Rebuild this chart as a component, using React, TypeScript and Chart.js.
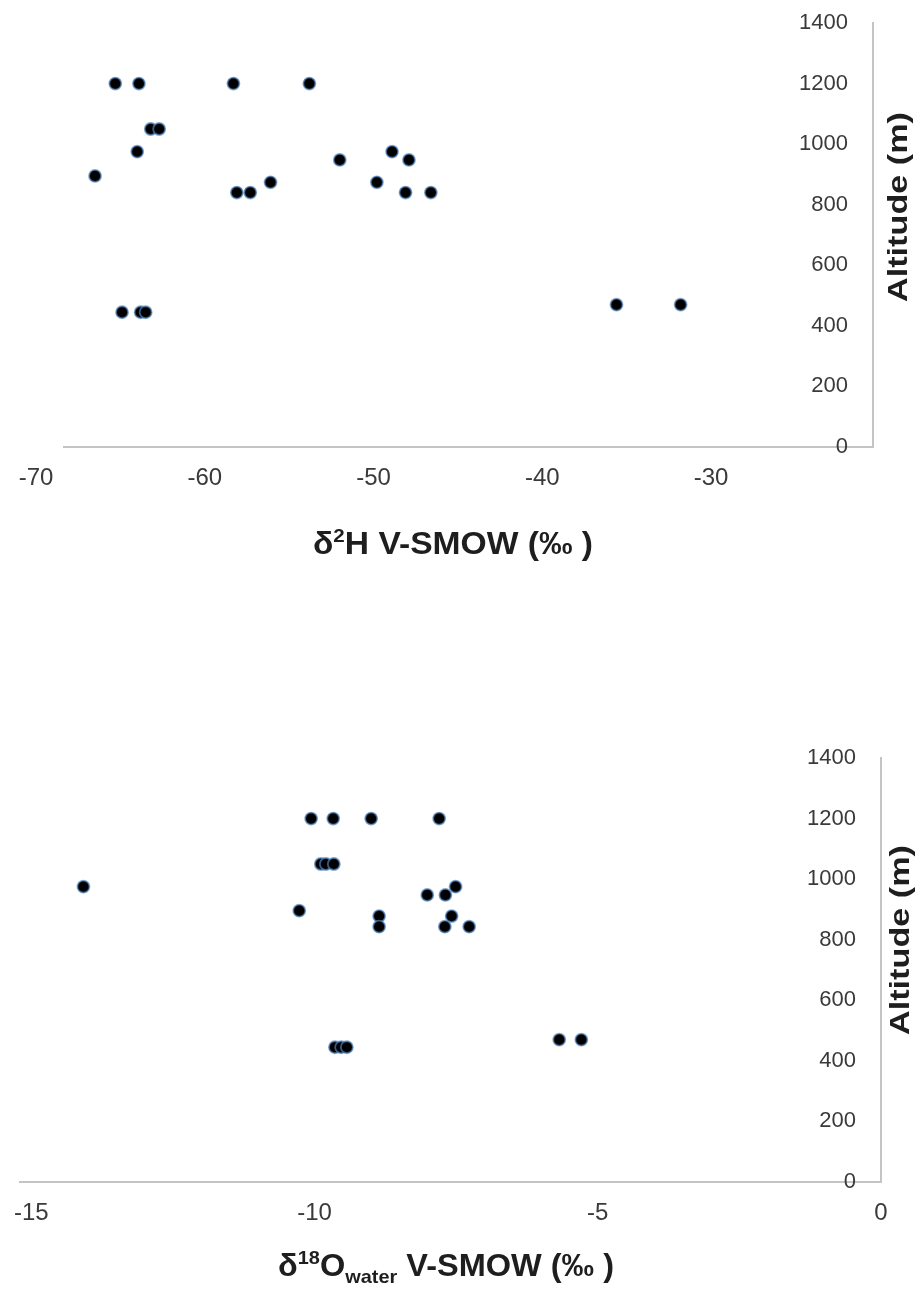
import React, { useEffect, useRef } from "react";
import { Chart, registerables } from "chart.js";

Chart.register(...registerables);

// ---- Data: δ2H (top chart) ----
const deltaH = [
  -65.3, -63.9, -58.3, -53.8,
  -63.2, -62.7,
  -64.0, -66.5,
  -52.0, -47.9, -48.9,
  -56.1, -49.8,
  -58.1, -57.3, -48.1, -46.6,
  -64.9, -63.8, -63.5,
  -35.6, -31.8,
];
const altitudeH = [
  1200, 1200, 1200, 1200,
  1050, 1050,
  975, 895,
  948, 948, 975,
  874, 874,
  840, 840, 840, 840,
  445, 445, 445,
  470, 470,
];

// ---- Data: δ18O water (bottom chart) ----
const deltaO = [
  -10.06, -9.67, -9.0, -7.8,
  -9.89, -9.8, -9.66,
  -14.08, -7.51,
  -8.01, -7.69,
  -10.27,
  -8.86, -7.58,
  -8.86, -7.7, -7.27,
  -9.64, -9.53, -9.43,
  -5.68, -5.29,
];
const altitudeO = [
  1200, 1200, 1200, 1200,
  1050, 1050, 1050,
  975, 975,
  948, 948,
  896,
  878, 878,
  843, 843, 843,
  445, 445, 445,
  470, 470,
];

// ---- Tick labels ----
const hTicks = [-70, -60, -50, -40, -30];
const oTicks = [-15, -10, -5, 0];
const altitudeTicks = [0, 200, 400, 600, 800, 1000, 1200, 1400];

type Seg = { text: string; size: number; dy: number };

const TITLE_FAMILY = '"Liberation Sans", Arial, sans-serif';

function drawRich(
  ctx: CanvasRenderingContext2D,
  segs: Seg[],
  cx: number,
  baseline: number,
  width: number
) {
  const ws: number[] = [];
  let total = 0;
  for (const s of segs) {
    ctx.font = `bold ${s.size}px ${TITLE_FAMILY}`;
    const w = ctx.measureText(s.text).width;
    ws.push(w);
    total += w;
  }
  const sx = width / total;
  ctx.save();
  ctx.translate(cx - width / 2, baseline);
  ctx.scale(sx, 1);
  ctx.fillStyle = "#1e1e1e";
  ctx.textAlign = "left";
  ctx.textBaseline = "alphabetic";
  let x = 0;
  segs.forEach((s, i) => {
    ctx.font = `bold ${s.size}px ${TITLE_FAMILY}`;
    ctx.fillText(s.text, x, s.dy);
    x += ws[i];
  });
  ctx.restore();
}

function drawVertical(
  ctx: CanvasRenderingContext2D,
  text: string,
  cx: number,
  cy: number,
  length: number,
  size: number
) {
  ctx.save();
  ctx.translate(cx, cy);
  ctx.rotate(-Math.PI / 2);
  ctx.font = `bold ${size}px ${TITLE_FAMILY}`;
  const w = ctx.measureText(text).width;
  ctx.scale(length / w, 1);
  ctx.fillStyle = "#1e1e1e";
  ctx.textAlign = "center";
  ctx.textBaseline = "middle";
  ctx.fillText(text, 0, 0);
  ctx.restore();
}

type Cfg = {
  xs: number[];
  ys: number[];
  xMin: number;
  xMax: number;
  xTicks: number[];
  padLeft: number;
  padTop: number;
  xAxisHeight: number;
  yAxisWidth: number;
  xTickPadding: number;
  xTitle: Seg[];
  xTitleX: number;
  xTitleBaseline: number;
  xTitleWidth: number;
  yTitleX: number;
  yTitleY: number;
};

function buildChart(canvas: HTMLCanvasElement, cfg: Cfg) {
  const titlePlugin = {
    id: "richTitles",
    afterDraw(chart: Chart) {
      const ctx = chart.ctx;
      drawRich(ctx, cfg.xTitle, cfg.xTitleX, cfg.xTitleBaseline, cfg.xTitleWidth);
      drawVertical(ctx, "Altitude (m)", cfg.yTitleX, cfg.yTitleY, 190, 27);
    },
  };
  return new Chart(canvas, {
    type: "scatter",
    data: {
      datasets: [
        {
          data: cfg.xs.map((x, i) => ({ x, y: cfg.ys[i] })),
          pointRadius: 6,
          pointHoverRadius: 6,
          backgroundColor: "#000000",
          borderColor: "rgba(79,129,189,0.7)",
          borderWidth: 1.8,
        },
      ],
    },
    options: {
      animation: false,
      responsive: false,
      maintainAspectRatio: false,
      events: [],
      layout: {
        padding: { left: cfg.padLeft, top: cfg.padTop, right: 0, bottom: 0 },
      },
      plugins: {
        legend: { display: false },
        tooltip: { enabled: false },
      },
      scales: {
        x: {
          type: "linear",
          position: "bottom",
          min: cfg.xMin,
          max: cfg.xMax,
          grid: { display: false, drawTicks: false },
          border: { display: true, color: "#c4c4c4", width: 2 },
          ticks: {
            autoSkip: false,
            maxRotation: 0,
            padding: cfg.xTickPadding,
            color: "#3a3a3a",
            font: { family: '"Liberation Sans Narrow", "Liberation Sans", Arial', size: 24 },
            callback: (v: any) => String(v),
          },
          afterBuildTicks: (s: any) => {
            s.ticks = cfg.xTicks.map((v) => ({ value: v }));
          },
          afterFit: (s: any) => {
            s.height = cfg.xAxisHeight;
            s.paddingLeft = 0;
            s.paddingRight = 0;
          },
        },
        y: {
          type: "linear",
          position: "right",
          min: 0,
          max: 1400,
          grid: { display: false, drawTicks: false },
          border: { display: true, color: "#c4c4c4", width: 2 },
          ticks: {
            mirror: true,
            padding: -25,
            color: "#3a3a3a",
            font: { family: '"Liberation Sans", Arial', size: 22 },
            callback: (v: any) => String(v),
          },
          afterBuildTicks: (s: any) => {
            s.ticks = altitudeTicks.map((v) => ({ value: v }));
          },
          afterFit: (s: any) => {
            s.width = cfg.yAxisWidth;
            s.paddingTop = 0;
            s.paddingBottom = 0;
          },
        },
      },
    },
    plugins: [titlePlugin],
  } as any);
}

export default function App() {
  const topRef = useRef<HTMLCanvasElement>(null);
  const botRef = useRef<HTMLCanvasElement>(null);

  useEffect(() => {
    const top = buildChart(topRef.current!, {
      xs: deltaH,
      ys: altitudeH,
      xMin: -68.34,
      xMax: -20.4,
      xTicks: hTicks,
      padLeft: 64,
      padTop: 23,
      xAxisHeight: 600 - 447,
      yAxisWidth: 920 - 873,
      xTickPadding: 17,
      xTitle: [
        { text: "δ", size: 31, dy: 0 },
        { text: "2", size: 19, dy: -12 },
        { text: "H V-SMOW (‰ )", size: 31, dy: 0 },
      ],
      xTitleX: 453,
      xTitleBaseline: 554,
      xTitleWidth: 280,
      yTitleX: 900,
      yTitleY: 207,
    });
    const bottom = buildChart(botRef.current!, {
      xs: deltaO,
      ys: altitudeO,
      xMin: -15.2,
      xMax: 0,
      xTicks: oTicks,
      padLeft: 20,
      padTop: 158,
      xAxisHeight: 695 - 582,
      yAxisWidth: 920 - 881,
      xTickPadding: 17,
      xTitle: [
        { text: "δ", size: 31, dy: 0 },
        { text: "18", size: 19, dy: -12 },
        { text: "O", size: 31, dy: 0 },
        { text: "water", size: 19, dy: 7 },
        { text: " V-SMOW (‰ )", size: 31, dy: 0 },
      ],
      xTitleX: 446,
      xTitleBaseline: 676,
      xTitleWidth: 336,
      yTitleX: 902,
      yTitleY: 340,
    });
    return () => {
      top.destroy();
      bottom.destroy();
    };
  }, []);

  return (
    <div
      style={{
        position: "absolute",
        left: 0,
        top: 0,
        width: 920,
        height: 1295,
        background: "#ffffff",
      }}
    >
      <canvas
        ref={topRef}
        width={920}
        height={600}
        style={{ position: "absolute", left: 0, top: 0, width: 920, height: 600 }}
      />
      <canvas
        ref={botRef}
        width={920}
        height={695}
        style={{ position: "absolute", left: 0, top: 600, width: 920, height: 695 }}
      />
    </div>
  );
}
